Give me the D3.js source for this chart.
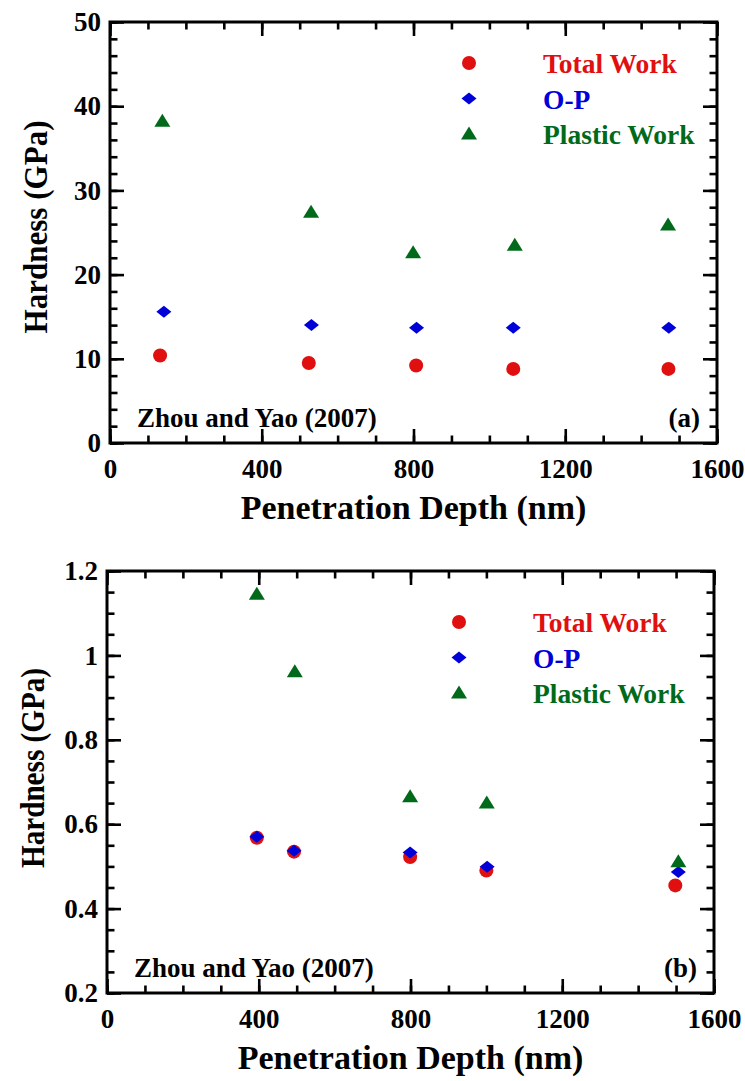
<!DOCTYPE html>
<html>
<head>
<meta charset="utf-8">
<script src="https://cdn.jsdelivr.net/npm/d3@7"></script>
<style>
  body { margin: 0; background: #fff; }
  svg text { font-family: "Liberation Serif", "Times New Roman", serif; font-weight: bold; }
</style>
</head>
<body>
<div id="chart"></div>
<script>
// values
const seriesNames = ["Total Work", "O-P", "Plastic Work"]
const depthTicks = [0, 400, 800, 1200, 1600]
const depthLabels = ["0", "400", "800", "1200", "1600"]

// panel (a)
const aHardTicks = [0, 10, 20, 30, 40, 50]
const aHardLabels = ["0", "10", "20", "30", "40", "50"]
const aTotalDepth = [132, 524, 807, 1063, 1472]
const aTotalHard = [10.4, 9.5, 9.2, 8.8, 8.8]
const aOPDepth = [142, 531, 808, 1063, 1473]
const aOPHard = [15.6, 14.0, 13.7, 13.7, 13.7]
const aPlasticDepth = [138, 530, 799, 1067, 1471]
const aPlasticHard = [38.2, 27.4, 22.6, 23.5, 25.9]

// panel (b)
const bHardTicks = [0.2, 0.4, 0.6, 0.8, 1, 1.2]
const bHardLabels = ["0.2", "0.4", "0.6", "0.8", "1", "1.2"]
const bTotalDepth = [395, 493, 799, 1000, 1498]
const bTotalHard = [0.568, 0.535, 0.522, 0.490, 0.455]
const bOPDepth = [395, 493, 799, 1002, 1506]
const bOPHard = [0.570, 0.537, 0.533, 0.499, 0.487]
const bPlasticDepth = [395, 495, 799, 1001, 1506]
const bPlasticHard = [1.145, 0.961, 0.665, 0.650, 0.511]

const colors = ["#e01010", "#0000d8", "#006a1a"]

var svg = d3.select("#chart").append("svg")
    .attr("width", 745)
    .attr("height", 1081)

function zip(xs, ys) {
    return xs.map((d, i) => ({ depth: d, hard: ys[i] }))
}

function marker(g, kind, color) {
    if (kind == 0)
        g.append("circle").attr("r", 7).attr("fill", color)
    else if (kind == 1)
        g.append("path").attr("d", "M-7.5,0L0,-6L7.5,0L0,6Z").attr("fill", color)
    else
        g.append("path").attr("d", "M-8,5.5L8,5.5L0,-7.5Z").attr("fill", color)
}

function drawPanel(p) {
    var width = 607, height = p.height
    var g = svg.append("g").attr("transform", "translate(" + p.left + "," + p.top + ")")

    var x = d3.scaleLinear().domain([0, 1600]).range([0, width])
    var y = d3.scaleLinear().domain(p.yDomain).range([height, 0])

    // ticks pointing inward on all four sides
    var axes = [
        [d3.axisBottom(x), "translate(0," + height + ")", true, x, 16],
        [d3.axisTop(x), "", false, x, 16],
        [d3.axisLeft(y), "", true, y, p.yMinor],
        [d3.axisRight(y), "translate(" + width + ",0)", false, y, p.yMinor]
    ]
    axes.forEach(function(a, k) {
        var vertical = k >= 2
        var vals = vertical ? p.yTicks : depthTicks
        var labels = vertical ? p.yLabels : depthLabels
        g.append("g").attr("transform", a[1])
            .call(a[0].scale(a[3]).tickValues(a[3].ticks(a[4])).tickSize(-7.5).tickFormat(""))
        var major = g.append("g").attr("transform", a[1])
            .call(a[0].tickValues(vals).tickSize(-14).tickPadding(vertical ? 9 : 16)
                .tickFormat((d, i) => a[2] ? labels[i] : ""))
        g.selectAll(".domain").remove()
        major.selectAll("text")
            .attr("font-size", 27)
            .attr("fill", "#000")
    })
    g.selectAll(".tick line").attr("stroke", "#000").attr("stroke-width", 2.6)

    g.append("rect")
        .attr("width", width).attr("height", height)
        .attr("fill", "none").attr("stroke", "#000").attr("stroke-width", 3)

    // data
    p.series.forEach(function(s, k) {
        g.selectAll(".m" + k).data(s).enter()
            .append("g")
            .attr("class", "m" + k)
            .attr("transform", d => "translate(" + x(d.depth) + "," + y(d.hard) + ")")
            .each(function() { marker(d3.select(this), k, colors[k]) })
    })

    // legend
    var lg = g.append("g").attr("transform", "translate(" + p.legendX + "," + p.legendY + ")")
    seriesNames.forEach(function(name, k) {
        var row = lg.append("g").attr("transform", "translate(0," + k * 35.5 + ")")
        marker(row, k, colors[k])
        row.append("text")
            .attr("x", 74).attr("y", 10)
            .attr("font-size", 27.5)
            .attr("fill", colors[k])
            .text(name)
    })

    g.append("text")
        .attr("x", 27).attr("y", height - 16)
        .attr("font-size", 27)
        .text("Zhou and Yao (2007)")
    g.append("text")
        .attr("x", width - 17).attr("y", height - 16)
        .attr("font-size", 27)
        .attr("text-anchor", "end")
        .text(p.tag)

    g.append("text")
        .attr("x", width / 2).attr("y", height + 76)
        .attr("font-size", 34)
        .attr("text-anchor", "middle")
        .text("Penetration Depth (nm)")
    g.append("text")
        .attr("transform", "translate(-63," + p.yTitleMid + ") rotate(-90)")
        .attr("font-size", 34)
        .attr("text-anchor", "middle")
        .attr("textLength", p.yTitleLen)
        .attr("lengthAdjust", "spacingAndGlyphs")
        .text("Hardness (GPa)")
}

drawPanel({
    left: 110, top: 22, height: 421,
    yDomain: [0, 50], yTicks: aHardTicks, yLabels: aHardLabels, yMinor: 25,
    legendX: 359, legendY: 41, yTitleMid: 205, yTitleLen: 213, tag: "(a)",
    series: [zip(aTotalDepth, aTotalHard), zip(aOPDepth, aOPHard), zip(aPlasticDepth, aPlasticHard)]
})

drawPanel({
    left: 107, top: 571, height: 422,
    yDomain: [0.2, 1.2], yTicks: bHardTicks, yLabels: bHardLabels, yMinor: 20,
    legendX: 352, legendY: 51, yTitleMid: 197, yTitleLen: 200, tag: "(b)",
    series: [zip(bTotalDepth, bTotalHard), zip(bOPDepth, bOPHard), zip(bPlasticDepth, bPlasticHard)]
})
</script>
</body>
</html>
